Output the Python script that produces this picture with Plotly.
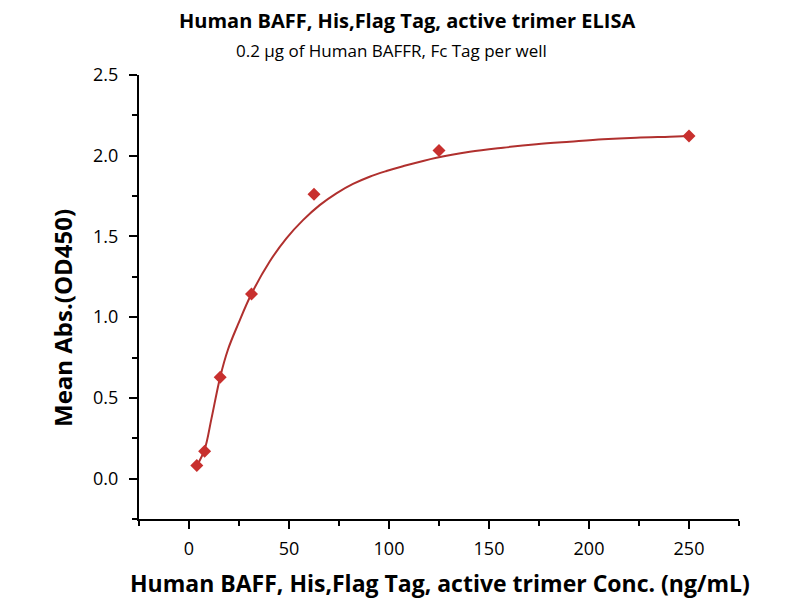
import plotly.graph_objects as go

# measured points
conc = [3.9, 7.8, 15.6, 31.25, 62.5, 125, 250]
od450 = [0.082, 0.169, 0.628, 1.143, 1.761, 2.033, 2.122]

# fitted curve
fit_x = [3.9, 7.8, 11.2, 15.6, 19.5, 24.5, 31.25, 40.35, 48.7, 57, 65.35, 73.7, 82,
         90.3, 98.7, 107, 123.7, 140.4, 157, 173.7, 190.4, 207, 223.7, 240.4, 250]
fit_y = [0.08, 0.18, 0.37, 0.63, 0.80, 0.955, 1.145, 1.345, 1.488, 1.601, 1.694, 1.767, 1.825,
         1.87, 1.905, 1.935, 1.988, 2.025, 2.05, 2.071, 2.087, 2.102, 2.112, 2.118, 2.122]

font = "Open Sans"

# page is drawn with an 8px body margin, so everything is nudged up/left by 8
fig = go.Figure()
fig.add_trace(go.Scatter(x=fit_x, y=fit_y, mode="lines",
                         line=dict(color="#B0302E", width=2, shape="spline"),
                         hoverinfo="skip"))
fig.add_trace(go.Scatter(x=conc, y=od450, mode="markers",
                         marker=dict(symbol="diamond", size=10, color="#C8302E")))

axis_common = dict(showgrid=False, zeroline=False, showline=True, linecolor="black",
                   linewidth=2, ticks="outside", ticklen=8, tickwidth=2, tickcolor="black",
                   tickfont=dict(family=font, size=18, color="black"))

fig.update_xaxes(range=[-25, 275], tickvals=[0, 50, 100, 150, 200, 250],
                 ticklabelstandoff=4,
                 minor=dict(tickvals=[-25, 25, 75, 125, 175, 225, 275], ticks="outside",
                            ticklen=5, tickwidth=2, tickcolor="black"),
                 **axis_common)
fig.update_yaxes(range=[-0.25, 2.5], tickvals=[0, 0.5, 1.0, 1.5, 2.0, 2.5],
                 tickformat=".1f", ticklabelstandoff=7,
                 minor=dict(tickvals=[-0.25, 0.25, 0.75, 1.25, 1.75, 2.25], ticks="outside",
                            ticklen=5, tickwidth=2, tickcolor="black"),
                 **axis_common)


def px(x, y):
    # reference pixel -> paper coords of the plot area (left 139, top 75, 600x444)
    return dict(xref="paper", yref="paper", x=(x - 139) / 600, y=(519 - y) / 444,
                xanchor="center", yanchor="middle", showarrow=False)


fig.update_layout(
    width=800, height=600,
    margin=dict(l=131, r=69, t=67, b=89),
    plot_bgcolor="white", paper_bgcolor="white",
    showlegend=False,
    annotations=[
        dict(text="<b>Human BAFF, His,Flag Tag, active trimer ELISA</b>",
             font=dict(family=font, size=20, color="black"), **px(407, 21)),
        dict(text="0.2 μg of Human BAFFR, Fc Tag per well",
             font=dict(family=font, size=17, color="black"), **px(391, 50)),
        dict(text="<b>Human BAFF, His,Flag Tag, active trimer Conc. (ng/mL)</b>",
             font=dict(family=font, size=23, color="black"), **px(440, 583)),
        dict(text="<b>Mean Abs.(OD450)</b>", textangle=-90,
             font=dict(family=font, size=24, color="black"), **px(62, 318)),
    ],
)

fig.write_html("out.html")
